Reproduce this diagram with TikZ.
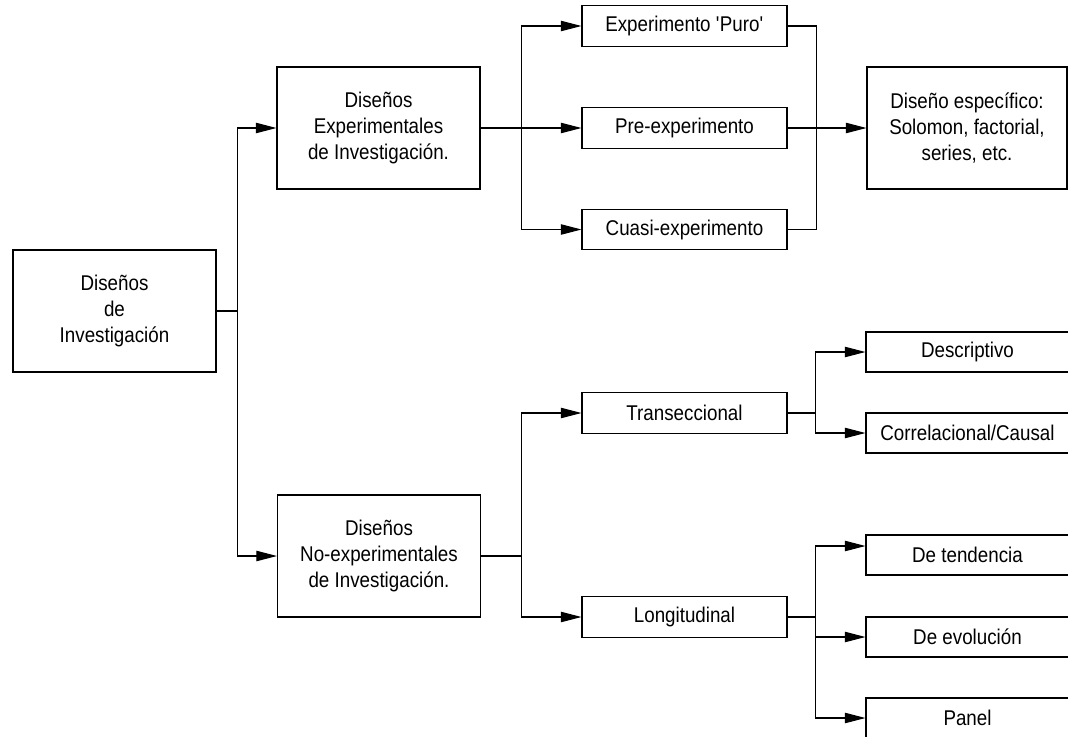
\documentclass[tikz,border=0pt]{standalone}
\usepackage{fontspec}
\setmainfont{Liberation Sans}[FakeStretch=0.88]
\usetikzlibrary{arrows.meta}
\usetikzlibrary{calc}

\tikzset{
  caja/.style={draw,line width=0.8pt,inner sep=0pt,align=center,
    font=\fontsize{16}{19.5}\selectfont},
  grande/.style={caja,minimum width=152.25pt,minimum height=91.5pt},
  chica/.style={caja,minimum width=153.75pt,minimum height=30.5pt},
  hoja/.style={caja,minimum width=152.25pt,minimum height=30pt},
  linea/.style={line width=0.8pt},
  flecha/.style={linea,-{Triangle[length=15.5pt,width=7.8pt]}}
}

\begin{document}
\begin{tikzpicture}[x=0.75pt,y=-0.75pt]
\useasboundingbox (0,0) rectangle (1068,736);
% cajas principales
\node[grande] (raiz) at (114.5,311) {Diseños\\de\\Investigación};
\node[grande] (exper) at (378.5,128) {Diseños\\Experimentales\\de Investigación.};
\node[grande] (noexper) at (379,556) {Diseños\\No-experimentales\\de Investigación.};
% rama experimental
\node[chica] (puro) at (684.5,26) {Experimento {\textquotesingle}Puro{\textquotesingle}};
\node[chica] (pre) at (684.5,128) {Pre-experimento};
\node[chica] (cuasi) at (684.5,229.5) {Cuasi-experimento};
\node[grande,minimum width=150pt] (espec) at (967,128) {Diseño específico:\\Solomon, factorial,\\series, etc.};
% rama no experimental
\node[chica] (trans) at (684.5,413) {Transeccional};
\node[chica] (longit) at (684.5,617) {Longitudinal};
\node[hoja] (descr) at (967.5,352) {Descriptivo};
\node[hoja] (correl) at (967.5,433) {Correlacional/Causal};
\node[hoja] (tend) at (967.5,555) {De tendencia};
\node[hoja] (evol) at (967.5,637) {De evolución};
\node[hoja] (panel) at (967.5,718) {Panel};

\coordinate (j0) at ($(raiz.east)+(20.5,0)$);
\draw[linea] (raiz.east) -- (j0);
\draw[flecha] (j0) |- (exper.west);
\draw[flecha] (j0) |- (noexper.west);

\coordinate (j1) at ($(exper.east)+(41,0)$);
\draw[linea] (exper.east) -- (j1);
\draw[flecha] (j1) |- (puro.west);
\draw[flecha] (j1) -- (pre.west);
\draw[flecha] (j1) |- (cuasi.west);

\coordinate (j2) at ($(pre.east)+(29,0)$);
\draw[linea] (puro.east) -| (j2) |- (cuasi.east);
\draw[flecha] (pre.east) -- (espec.west);

\coordinate (j5) at ($(noexper.east)+(40,0)$);
\draw[linea] (noexper.east) -- (j5);
\draw[flecha] (j5) |- (trans.west);
\draw[flecha] (j5) |- (longit.west);

\coordinate (j3) at ($(trans.east)+(28,0)$);
\draw[linea] (trans.east) -- (j3);
\draw[flecha] (j3) |- (descr.west);
\draw[flecha] (j3) |- (correl.west);

\coordinate (j4) at ($(longit.east)+(28,0)$);
\draw[linea] (longit.east) -- (j4);
\draw[flecha] (j4) |- ([yshift=6.75pt]tend.west);
\draw[flecha] (j4) |- (evol.west);
\draw[flecha] (j4) |- (panel.west);
\end{tikzpicture}
\end{document}
